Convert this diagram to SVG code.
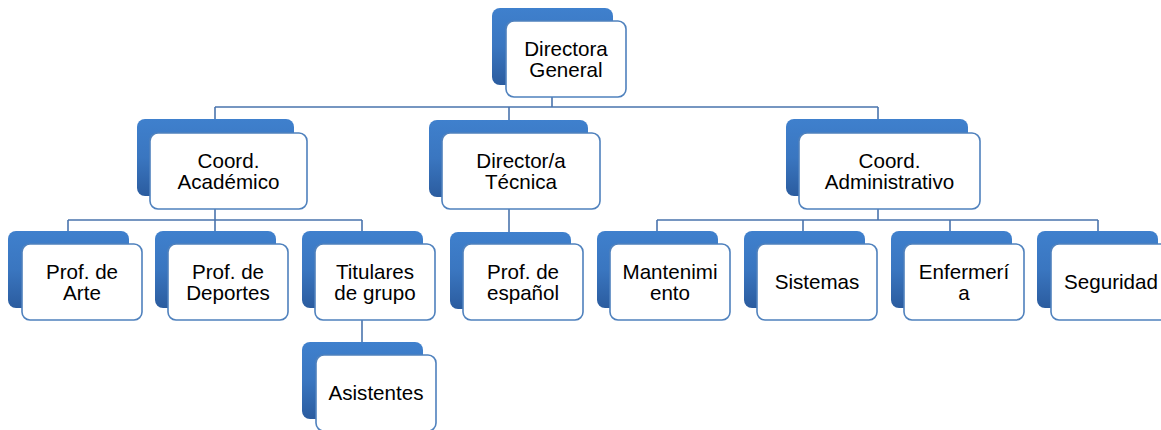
<svg xmlns="http://www.w3.org/2000/svg" width="1161" height="430" viewBox="0 0 1161 430">
<defs>
<linearGradient id="bg" x1="0" y1="0" x2="0" y2="1">
<stop offset="0" stop-color="#3f80cd"/>
<stop offset="0.5" stop-color="#3a76c0"/>
<stop offset="1" stop-color="#2b5c9f"/>
</linearGradient>
<style>
.back{fill:url(#bg);}
.front{fill:#ffffff;stroke:#4f81bd;stroke-width:1.6;}
.lbl{font-family:"Liberation Sans",Arial,sans-serif;font-size:20.6px;fill:#000000;text-anchor:middle;}
.con{fill:none;stroke:#4a74ad;stroke-width:1.6;}
</style>
</defs>
<rect width="1161" height="430" fill="#ffffff"/>
<g id="connectors">
<path class="con" d="M552 97 V107 M215 107 H878 M215 107 V119 M509 107 V120 M878 107 V119"/>
<path class="con" d="M215 209 V220 M68 220 H362 M68 220 V231 M215 220 V231 M362 220 V231"/>
<path class="con" d="M509 209 V232"/>
<path class="con" d="M878 209 V220 M657 220 H1098 M657 220 V231 M803 220 V231 M950 220 V231 M1098 220 V231"/>
<path class="con" d="M362 320 V342"/>
</g>
<g id="directora">
<rect class="back" x="492" y="8" width="121" height="77" rx="8"/>
<rect class="front" x="506" y="21" width="120" height="76" rx="8"/>
<text class="lbl" x="566" y="55.5">Directora</text>
<text class="lbl" x="566" y="76.5">General</text>
</g>
<g id="coord-academico">
<rect class="back" x="137" y="119" width="157" height="77" rx="8"/>
<rect class="front" x="150" y="133" width="157" height="76" rx="8"/>
<text class="lbl" x="228.5" y="167.5">Coord.</text>
<text class="lbl" x="228.5" y="188.5">Académico</text>
</g>
<g id="director-tecnica">
<rect class="back" x="429" y="120" width="159" height="77" rx="8"/>
<rect class="front" x="442" y="133" width="158" height="76" rx="8"/>
<text class="lbl" x="521" y="167.5">Director/a</text>
<text class="lbl" x="521" y="188.5">Técnica</text>
</g>
<g id="coord-administrativo">
<rect class="back" x="786" y="119" width="182" height="77" rx="8"/>
<rect class="front" x="799" y="133" width="181" height="76" rx="8"/>
<text class="lbl" x="889.5" y="167.5">Coord.</text>
<text class="lbl" x="889.5" y="188.5">Administrativo</text>
</g>
<g id="prof-arte">
<rect class="back" x="8" y="231" width="121" height="77" rx="8"/>
<rect class="front" x="22" y="244" width="120" height="76" rx="8"/>
<text class="lbl" x="82" y="278.5">Prof. de</text>
<text class="lbl" x="82" y="299.5">Arte</text>
</g>
<g id="prof-deportes">
<rect class="back" x="155" y="231" width="121" height="77" rx="8"/>
<rect class="front" x="168" y="244" width="120" height="76" rx="8"/>
<text class="lbl" x="228" y="278.5">Prof. de</text>
<text class="lbl" x="228" y="299.5">Deportes</text>
</g>
<g id="titulares">
<rect class="back" x="302" y="231" width="121" height="77" rx="8"/>
<rect class="front" x="315" y="244" width="120" height="76" rx="8"/>
<text class="lbl" x="375" y="278.5">Titulares</text>
<text class="lbl" x="375" y="299.5">de grupo</text>
</g>
<g id="asistentes">
<rect class="back" x="302" y="342" width="121" height="77" rx="8"/>
<rect class="front" x="316" y="355" width="120" height="76" rx="8"/>
<text class="lbl" x="376" y="400">Asistentes</text>
</g>
<g id="prof-espanol">
<rect class="back" x="450" y="232" width="121" height="77" rx="8"/>
<rect class="front" x="463" y="244" width="120" height="76" rx="8"/>
<text class="lbl" x="523" y="278.5">Prof. de</text>
<text class="lbl" x="523" y="299.5">español</text>
</g>
<g id="mantenimiento">
<rect class="back" x="597" y="231" width="121" height="77" rx="8"/>
<rect class="front" x="610" y="244" width="120" height="76" rx="8"/>
<text class="lbl" x="670" y="278.5">Mantenimi</text>
<text class="lbl" x="670" y="299.5">ento</text>
</g>
<g id="sistemas">
<rect class="back" x="744" y="231" width="121" height="77" rx="8"/>
<rect class="front" x="757" y="244" width="120" height="76" rx="8"/>
<text class="lbl" x="817" y="289">Sistemas</text>
</g>
<g id="enfermeria">
<rect class="back" x="891" y="231" width="121" height="77" rx="8"/>
<rect class="front" x="904" y="244" width="120" height="76" rx="8"/>
<text class="lbl" x="964" y="278.5">Enfermerí</text>
<text class="lbl" x="964" y="299.5">a</text>
</g>
<g id="seguridad">
<rect class="back" x="1037" y="231" width="121" height="77" rx="8"/>
<rect class="front" x="1051" y="244" width="120" height="76" rx="8"/>
<text class="lbl" x="1111" y="289">Seguridad</text>
</g>
</svg>
